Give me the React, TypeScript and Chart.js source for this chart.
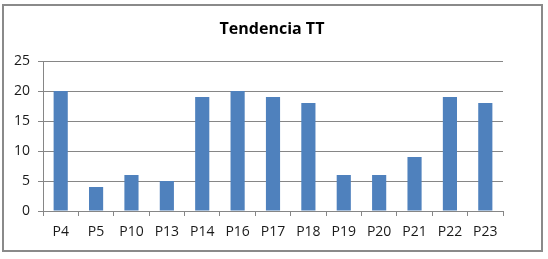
import React, { useEffect, useRef } from "react";
import { Chart, registerables } from "chart.js";

Chart.register(...registerables);

const title = "Tendencia TT";
const categories = ["P4", "P5", "P10", "P13", "P14", "P16", "P17", "P18", "P19", "P20", "P21", "P22", "P23"];
const values = [20, 4, 6, 5, 19, 20, 19, 18, 6, 6, 9, 19, 18];
const yTicks = [0, 5, 10, 15, 20, 25];

const FONT = "'Open Sans', 'Liberation Sans', sans-serif";

const frame = {
  id: "frame",
  beforeDraw(chart: any) {
    const ctx = chart.ctx;
    ctx.save();
    ctx.fillStyle = "#ffffff";
    ctx.fillRect(0, 0, chart.width, chart.height);
    ctx.strokeStyle = "#8a8a8a";
    ctx.lineWidth = 2;
    ctx.strokeRect(3, 5, 539, 246);
    ctx.restore();
  },
  afterDraw(chart: any) {
    const ctx = chart.ctx;
    ctx.save();
    ctx.fillStyle = "#000000";
    ctx.font = `bold 16px ${FONT}`;
    ctx.textAlign = "center";
    ctx.textBaseline = "middle";
    ctx.fillText(title, 272, 29);
    ctx.restore();
  },
};

export default function App() {
  const ref = useRef<HTMLCanvasElement | null>(null);
  useEffect(() => {
    if (!ref.current) return;
    const chart = new Chart(ref.current, {
      type: "bar",
      data: {
        labels: categories,
        datasets: [
          {
            data: values,
            backgroundColor: "#4F81BD",
            borderWidth: 0,
            barPercentage: 0.4,
            categoryPercentage: 1,
          },
        ],
      },
      options: {
        animation: false,
        responsive: false,
        maintainAspectRatio: false,
        layout: { padding: { top: 61, left: 0, right: 45, bottom: 18 } },
        plugins: { legend: { display: false }, title: { display: false }, tooltip: { enabled: false } },
        scales: {
          y: {
            min: 0,
            max: 25,
            afterFit(scale: any) {
              scale.width = 43;
            },
            afterBuildTicks(scale: any) {
              scale.ticks = yTicks.map((v) => ({ value: v }));
            },
            ticks: { color: "#1a1a1a", font: { family: FONT, size: 14 }, padding: 8 },
            grid: { color: "#868686", tickLength: 5, lineWidth: 1 },
            border: { color: "#868686", width: 1 },
          },
          x: {
            afterFit(scale: any) {
              scale.height = 30;
            },
            ticks: { color: "#1a1a1a", font: { family: FONT, size: 14 }, padding: 8, maxRotation: 0, autoSkip: false },
            grid: { drawOnChartArea: false, drawTicks: true, tickLength: 5, color: "#868686", offset: true },
            border: { color: "#868686", width: 1 },
          },
        },
      },
      plugins: [frame],
    });
    return () => chart.destroy();
  }, []);
  return (
    <div style={{ position: "fixed", left: 0, top: 0, width: 548, height: 259 }}>
      <canvas ref={ref} width={548} height={259} style={{ width: 548, height: 259, display: "block" }} />
    </div>
  );
}
